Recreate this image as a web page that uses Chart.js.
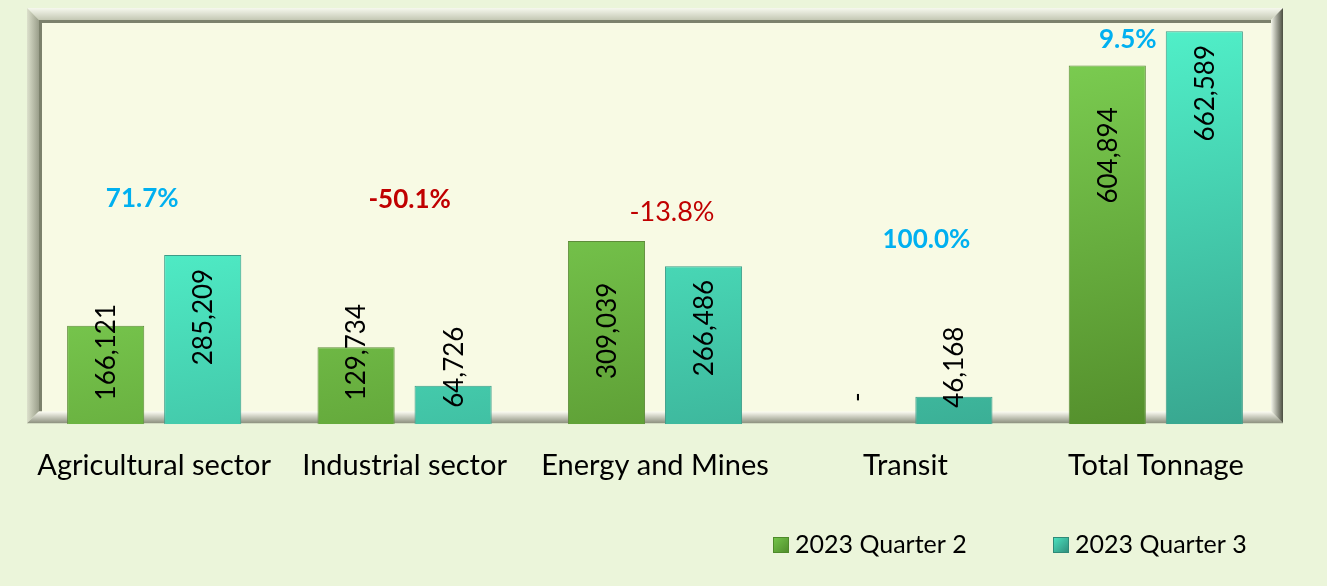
<!DOCTYPE html>
<html>
<head>
<meta charset="utf-8">
<script src="https://cdn.jsdelivr.net/npm/chart.js@4.4.1/dist/chart.umd.min.js"></script>
<style>
  html, body { margin: 0; padding: 0; background: #EBF5DA; }
  #wrap { position: relative; width: 1327px; height: 586px; }
</style>
</head>
<body>
<div id="wrap"><canvas id="tonnage" width="1327" height="586"></canvas></div>
<script>
var categories = ["Agricultural sector", "Industrial sector", "Energy and Mines", "Transit", "Total Tonnage"];
var quarter2 = [166121, 129734, 309039, 0, 604894];
var quarter3 = [285209, 64726, 266486, 46168, 662589];
var changeLabels = ["71.7%", "-50.1%", "-13.8%", "100.0%", "9.5%"];

var FONT = "Lato, 'Open Sans', sans-serif";

// bevelled plot frame behind the bars
var framePlugin = {
  id: "frame",
  beforeDraw: function (chart) {
    var c = chart.ctx, a = chart.chartArea;
    var L = a.left - 2, T = a.top - 1, R = a.right + 2, B = a.bottom - 1, w = 12;
    c.save();
    c.fillStyle = "#EBF5DA";
    c.fillRect(0, 0, chart.width, chart.height);

    function band(pts, x0, y0, x1, y1, c0, c1) {
      var g = c.createLinearGradient(x0, y0, x1, y1);
      g.addColorStop(0, c0);
      g.addColorStop(1, c1);
      c.fillStyle = g;
      c.beginPath();
      c.moveTo(pts[0], pts[1]);
      for (var i = 2; i < pts.length; i += 2) c.lineTo(pts[i], pts[i + 1]);
      c.closePath();
      c.fill();
    }
    // top
    band([L, T, R, T, R - w, T + w, L + w, T + w], 0, T, 0, T + w, "#F6F8EE", "#C4C8B4");
    // left
    band([L, T, L + w, T + w, L + w, B - w, L, B], L, 0, L + w, 0, "#DCE0CC", "#9A9E8A");
    // right
    band([R, T, R, B, R - w, B - w, R - w, T + w], R - w, 0, R, 0, "#F4F6EA", "#4A4D40");
    // bottom
    band([L, B, R, B, R - w, B - w, L + w, B - w], 0, B - w, 0, B, "#FFFFF6", "#8C907E");

    c.fillStyle = "#F8FAE4";
    c.fillRect(L + w, T + w, R - L - 2 * w, B - T - 2 * w);
    // inner shadow line
    c.strokeStyle = "#7C816C";
    c.lineWidth = 3;
    c.beginPath();
    c.moveTo(L + w + 1.5, B - w);
    c.lineTo(L + w + 1.5, T + w + 1.5);
    c.lineTo(R - w, T + w + 1.5);
    c.stroke();
    c.restore();
  },
  beforeDatasetsDraw: function (chart) {
    var shades = [["#7ACB50", "#548F2C", "#5E8C3A"], ["#50EFC8", "#38A68F", "#3C9C88"]];
    chart.data.datasets.forEach(function (ds, di) {
      chart.getDatasetMeta(di).data.forEach(function (bar) {
        var g = chart.ctx.createLinearGradient(bar.x - bar.width / 2, bar.y, bar.x + bar.width / 2, bar.base);
        g.addColorStop(0, shades[di][0]);
        g.addColorStop(1, shades[di][1]);
        bar.options.backgroundColor = g;
        bar.options.borderColor = shades[di][2];
      });
    });
  }
};

// rotated value labels, change labels and legend
var labelPlugin = {
  id: "labels",
  afterDatasetsDraw: function (chart, args, opts) {
    var c = chart.ctx;
    c.save();
    c.fillStyle = "#000";
    c.font = "26px " + FONT;
    c.textAlign = "center";
    c.textBaseline = "middle";
    chart.data.datasets.forEach(function (ds, di) {
      var off = opts.offsets[di];
      chart.getDatasetMeta(di).data.forEach(function (bar, i) {
        var v = ds.data[i];
        var text = v === 0 ? "-" : v.toLocaleString("en-US");
        var cy = v === 0 ? bar.base - 27 : Math.min(bar.y + off[0], bar.base - off[1]);
        c.save();
        c.translate(bar.x, cy);
        c.rotate(-Math.PI / 2);
        c.fillText(text, 0, 1);
        c.restore();
      });
    });

    var xs = chart.scales.x, ys = chart.scales.y;
    changeLabels.forEach(function (t, i) {
      var p = opts.change[i];
      c.fillStyle = t.charAt(0) === "-" ? "#C00000" : "#00B0F0";
      c.font = (p.bold ? "bold 26px " : "27px ") + FONT;
      c.fillText(t, xs.getPixelForValue(i) + p.dx, ys.getPixelForValue(p.at));
    });

    // legend
    c.font = "25px " + FONT;
    c.textAlign = "left";
    var lx = [773, 1053], ly = 545;
    var boxes = [["#76C84C", "#4E8A2A"], ["#4DE6C2", "#2F8A78"]];
    chart.data.datasets.forEach(function (ds, di) {
      var g = c.createLinearGradient(lx[di], ly - 8, lx[di] + 16, ly + 8);
      g.addColorStop(0, boxes[di][0]);
      g.addColorStop(1, boxes[di][1]);
      c.fillStyle = g;
      c.fillRect(lx[di], ly - 8, 16, 16);
      c.strokeStyle = boxes[di][1];
      c.lineWidth = 1;
      c.strokeRect(lx[di] + 0.5, ly - 7.5, 15, 15);
      c.fillStyle = "#000";
      c.fillText(ds.label, lx[di] + 22, ly);
    });
    c.restore();
  }
};

new Chart(document.getElementById("tonnage"), {
  type: "bar",
  data: {
    labels: categories,
    datasets: [
      { label: "2023 Quarter 2", data: quarter2, borderWidth: 1, backgroundColor: "#6AB542" },
      { label: "2023 Quarter 3", data: quarter3, borderWidth: 1, backgroundColor: "#45D6B4" }
    ]
  },
  options: {
    responsive: false,
    animation: false,
    categoryPercentage: 0.775,
    barPercentage: 0.795,
    layout: { padding: { left: 29, right: 46, top: 9, bottom: 79 } },
    scales: {
      x: {
        grid: { display: false, drawTicks: false },
        border: { display: false },
        ticks: { color: "#000", padding: 24, font: { family: FONT, size: 29 } }
      },
      y: {
        display: false,
        min: 0,
        max: 700000
      }
    },
    plugins: {
      legend: { display: false },
      tooltip: { enabled: false },
      labels: {
        offsets: [[90, 72], [62, 57]],
        change: [
          { dx: -12, at: 380000, bold: true },
          { dx: 5, at: 378000, bold: true },
          { dx: 17, at: 358000, bold: false },
          { dx: 21, at: 312000, bold: true },
          { dx: -28, at: 649000, bold: true }
        ]
      }
    }
  },
  plugins: [framePlugin, labelPlugin]
});
</script>
</body>
</html>
